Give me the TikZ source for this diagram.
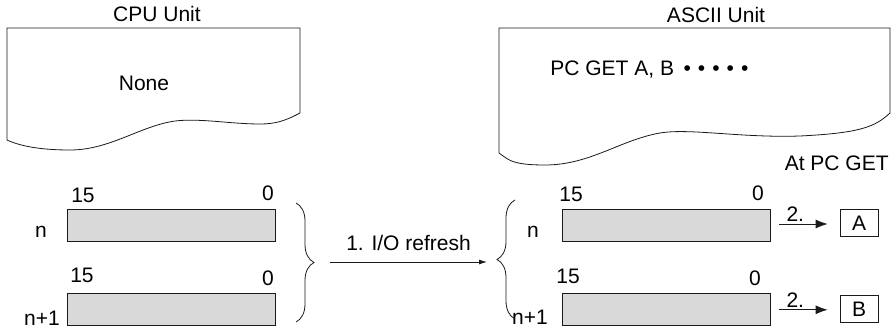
\documentclass[tikz,border=0pt]{standalone}
\usepackage{fontspec}
\setmainfont{Liberation Sans}
\usepackage{xcolor}
\definecolor{regGray}{HTML}{D9D9D9}
\definecolor{lineInk}{HTML}{1A1A1A}
\usetikzlibrary{arrows.meta,positioning,decorations.pathreplacing}
\newcommand{\getdots}{\hspace{6pt}\foreach \d in {1,...,5}{\hspace{3.5pt}\textbullet\hspace{3.5pt}}}

\begin{document}
\begin{tikzpicture}[
  x=1pt, y=-1pt,
  font=\fontsize{21}{25}\selectfont,
  line width=0.8pt, draw=lineInk,
  reg/.style={draw=lineInk, fill=regGray, minimum width=208pt, minimum height=32pt, inner sep=0pt},
  result/.style={draw=lineInk, minimum width=38pt, minimum height=27pt, inner sep=0pt},
  bitno/.style={inner sep=0pt},
  sheet/.style={draw=lineInk, line width=0.8pt},
  arc/.style={-{Latex[length=8pt,width=5pt]}, draw=lineInk},
  getarc/.style={-{Latex[length=12pt,width=9pt]}, draw=lineInk},
  bracket/.style={draw=lineInk, decorate, decoration={brace, amplitude=18pt}}
]
\useasboundingbox (0,0) rectangle (893,329);

% memory sheets
\draw[sheet] (7,28) -- (300,28) -- (300,113)
  .. controls (285,121) and (275,124) .. (260,124)
  .. controls (230,124) and (200,118) .. (175,121)
  .. controls (140,126) and (110,150) .. (70,150)
  .. controls (40,150) and (20,146) .. (7,140) -- cycle;
\draw[sheet] (499,28) -- (890,28) -- (890,113)
  .. controls (875,127) and (860,133) .. (800,136)
  .. controls (740,138) and (690,128) .. (660,133)
  .. controls (620,140) and (590,165) .. (545,165)
  .. controls (520,165) and (512,162) .. (506,158) -- (499,153) -- cycle;

% unit titles and contents
\node (cpu) at (157,14) {CPU Unit};
\node (ascii) at (716,15) {ASCII Unit};
\node (none) at (144,83) {None};
\node[anchor=west, inner sep=0pt] (pcget) at (550,70) {PC GET A, B\getdots};
\node[anchor=east, inner sep=0pt] (atget) at (889,163) {At PC GET};

% registers
\node[reg] (cn) at (171,225) {};
\node[reg, below=52pt of cn] (cn1) {};
\node[reg] (an) at (666,225) {};
\node[reg, below=52pt of an] (an1) {};

% word and bit labels
\node[bitno] (cnw) at (41,232) {n};
\node[bitno] (cn1w) at (42,318) {n+1};
\node[bitno] (an_w) at (533,232) {n};
\node[bitno] (an1w) at (530,317) {n+1};
\node[bitno] (cn15) at (83,195) {15};
\node[bitno] (cn0) at (268,193) {0};
\node[bitno] (cn115) at (82,275) {15};
\node[bitno] (cn10) at (268,278) {0};
\node[bitno] (an15) at (571,194) {15};
\node[bitno] (an0) at (758,193) {0};
\node[bitno] (an115) at (568,276) {15};
\node[bitno] (an10) at (755,278) {0};

% destination variables
\node[result] (resA) at (859,223) {A};
\node[result] (resB) at (859,309) {B};

% braces
\draw[bracket] (296,203) -- (296,322);
\draw[bracket] (515,319) -- (515,200);

% arrows
\coordinate (refreshL) at (330,262);
\coordinate (refreshR) at (487,262);
\draw[arc] (refreshL) -- node[above=8pt] {1. I/O refresh} (refreshR);
\draw[getarc, shorten <=9pt, shorten >=12pt] ([yshift=1pt]an.east) -- ([yshift=1pt]an.east -| resA.west)
  node[pos=0.36, above, inner sep=2pt] {2.};
\draw[getarc, shorten <=9pt, shorten >=12pt] (an1.east) -- (an1.east -| resB.west)
  node[pos=0.36, above, inner sep=2pt] {2.};
\end{tikzpicture}
\end{document}
